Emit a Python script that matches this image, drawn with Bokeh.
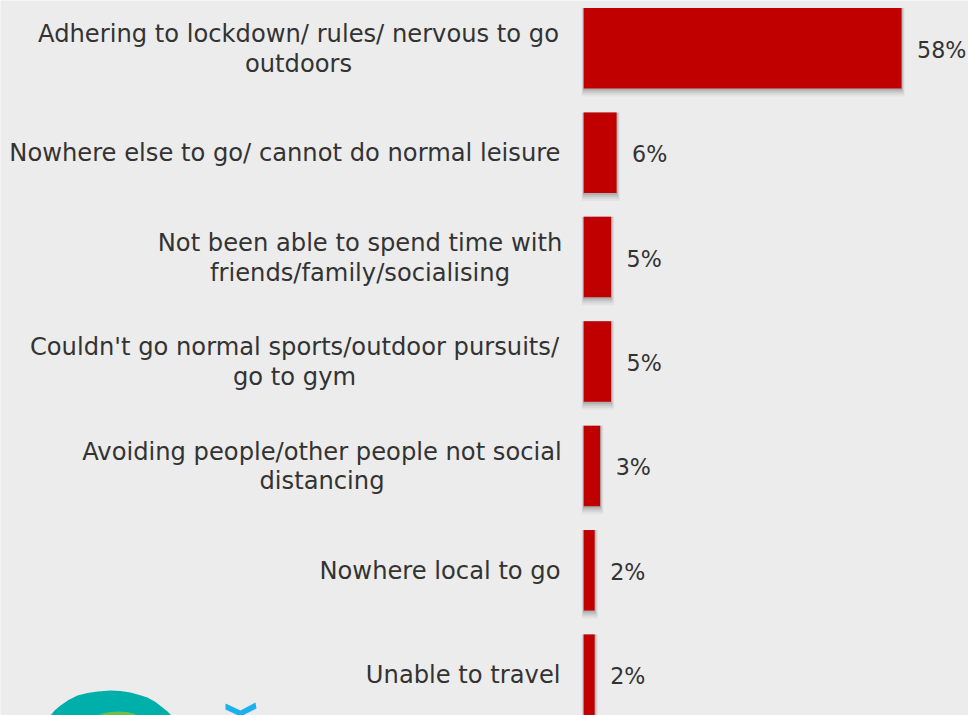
from bokeh.core.properties import value
from bokeh.embed import file_html
from bokeh.models import ColumnDataSource, Range1d
from bokeh.plotting import figure
from bokeh.resources import INLINE

# Survey answers, top to bottom, with the share of respondents for each
categories = [
    ["Adhering to lockdown/ rules/ nervous to go", "outdoors"],
    ["Nowhere else to go/ cannot do normal leisure"],
    ["Not been able to spend time with", "friends/family/socialising"],
    ["Couldn't go normal sports/outdoor pursuits/", "go to gym"],
    ["Avoiding people/other people not social", "distancing"],
    ["Nowhere local to go"],
    ["Unable to travel"],
]
shares = [58, 6, 5, 5, 3, 2, 2]

W, H = 968, 715
BG = "#ECECEC"
BAR = "#C00000"
INK = "#333333"
FONT = "DejaVu Sans"
LABEL_SIZE = "24.2px"
VALUE_SIZE = "22.2px"

# Pixel layout of the bar area
ZERO_X = 583.2
PX_PER_POINT = 5.48
FIRST_ROW_Y = 47.8
ROW_PITCH = 104.4
BAR_THICKNESS = 80.5
LABEL_RIGHT = 560
LINE_GAP = 29.5


def dx(px):
    return (px - ZERO_X) / PX_PER_POINT


def dy(py):
    return (py - FIRST_ROW_Y) / ROW_PITCH


p = figure(
    width=W, height=H, output_backend="svg", toolbar_location=None,
    x_range=Range1d(dx(0), dx(W)), y_range=Range1d(dy(H), dy(0)),
    min_border=0, background_fill_color=BG, border_fill_color=BG,
    outline_line_color=None,
)
p.axis.visible = False
p.grid.visible = False

rows = list(range(len(shares)))

# Soft shadow under each bar, built from stacked translucent layers
for grow, alpha in [(8, 0.05), (6, 0.08), (4, 0.12), (2, 0.16)]:
    p.hbar(
        y=[r + grow / 2 / ROW_PITCH for r in rows],
        right=[s + grow * 0.4 / PX_PER_POINT for s in shares],
        left=-grow * 0.25 / PX_PER_POINT,
        height=(BAR_THICKNESS + grow) / ROW_PITCH,
        fill_color="#444444", fill_alpha=alpha, line_color=None,
    )

bars = ColumnDataSource(dict(y=rows, right=shares))
p.hbar(y="y", right="right", left=0, height=BAR_THICKNESS / ROW_PITCH,
       source=bars, fill_color=BAR, line_color=None)

# Category labels: the lines of a two-line label are centred on each other,
# and the block as a whole ends at the right-hand text edge
block_widths = {0: 524, 2: 401, 3: 532, 4: 477}
for row, lines in enumerate(categories):
    if len(lines) == 1:
        p.text(x=[dx(LABEL_RIGHT)], y=[row], y_offset=0.5, text=[lines[0]], text_align="right",
               text_baseline="middle", text_color=INK,
               text_font=value(FONT), text_font_size=LABEL_SIZE)
    else:
        centre = LABEL_RIGHT - block_widths[row] / 2
        for k, line in enumerate(lines):
            p.text(x=[dx(centre)], y=[row + (k - 0.5) * LINE_GAP / ROW_PITCH], y_offset=0.7,
                   text=[line], text_align="center", text_baseline="middle",
                   text_color=INK, text_font=value(FONT), text_font_size=LABEL_SIZE)

# Value labels beside the bars
p.text(x=shares, y=rows, text=[f"{s}%" for s in shares], x_offset=15.5, y_offset=1.5,
       text_align="left", text_baseline="middle", text_color=INK,
       text_font=value(FONT), text_font_size=VALUE_SIZE)

# Logo fragments cut off by the lower edge
teal_x = [50, 54, 60, 68, 77, 87, 97, 110, 120, 130, 139, 147, 155, 162, 167, 171, 171, 50]
teal_y = [715, 710, 705, 699.5, 695, 692.5, 691, 690, 690.5, 692, 694.5, 697, 701.5, 707, 711, 715, 716, 716]
p.patch([dx(v) for v in teal_x], [dy(v) for v in teal_y], fill_color="#00AFAA", line_color=None)
green_x = [97, 103, 110, 118, 126, 133, 138, 138, 97]
green_y = [715, 712.8, 711.6, 711, 711.6, 713, 715, 716, 716]
p.patch([dx(v) for v in green_x], [dy(v) for v in green_y], fill_color="#6CC04A", line_color=None)
chevron_x = [225, 240, 255, 256, 240, 225]
chevron_y = [703, 710, 702, 708, 716, 709]
p.patch([dx(v) for v in chevron_x], [dy(v) for v in chevron_y], fill_color="#1CB0EC", line_color=None)

open("out.html", "w").write(file_html(p, INLINE))
